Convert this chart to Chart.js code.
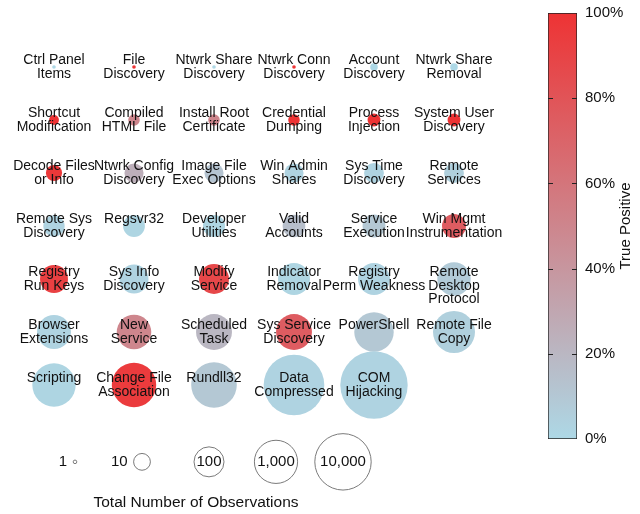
<!DOCTYPE html>
<html>
<head>
<meta charset="utf-8">
<script src="https://cdn.jsdelivr.net/npm/chart.js@4.4.1/dist/chart.umd.min.js"></script>
<style>
  html, body { margin: 0; padding: 0; background: #fff; }
  #wrap { position: relative; width: 640px; height: 514px; }
  #bubbles { position: absolute; left: 0; top: 0; }
  #scale { position: absolute; left: 540px; top: 0; }
</style>
</head>
<body>
<div id="wrap">
  <canvas id="bubbles" width="640" height="514"></canvas>
  <canvas id="scale" width="100" height="514"></canvas>
</div>
<script>
// techniques, laid out row by row, 6 per row
const techniques = [
  "Ctrl Panel\nItems", "File\nDiscovery", "Ntwrk Share\nDiscovery", "Ntwrk Conn\nDiscovery", "Account\nDiscovery", "Ntwrk Share\nRemoval",
  "Shortcut\nModification", "Compiled\nHTML File", "Install Root\nCertificate", "Credential\nDumping", "Process\nInjection", "System User\nDiscovery",
  "Decode Files\nor Info", "Ntwrk Config\nDiscovery", "Image File\nExec Options", "Win Admin\nShares", "Sys Time\nDiscovery", "Remote\nServices",
  "Remote Sys\nDiscovery", "Regsvr32", "Developer\nUtilities", "Valid\nAccounts", "Service\nExecution", "Win Mgmt\nInstrumentation",
  "Registry\nRun Keys", "Sys Info\nDiscovery", "Modify\nService", "Indicator\nRemoval", "Registry\nPerm Weakness", "Remote\nDesktop\nProtocol",
  "Browser\nExtensions", "New\nService", "Scheduled\nTask", "Sys Service\nDiscovery", "PowerShell", "Remote File\nCopy",
  "Scripting", "Change File\nAssociation", "Rundll32", "Data\nCompressed", "COM\nHijacking"
];
// total number of observations
const observations = [
  1, 1, 1, 1, 2, 2,
  3, 4, 4, 4, 5, 5,
  9, 15, 15, 15, 17, 17,
  22, 24, 25, 28, 29, 35,
  70, 84, 100, 140, 140, 180,
  200, 220, 280, 280, 520, 810,
  1030, 1230, 1520, 21000, 68000
];
// true positive rate (%)
const truePositive = [
  0, 100, 0, 100, 0, 0,
  100, 50, 50, 100, 100, 100,
  97, 25, 12, 3, 3, 5,
  3, 2, 2, 15, 10, 75,
  92, 3, 88, 2, 3, 8,
  3, 50, 20, 75, 10, 5,
  2, 95, 10, 3, 3
];
const sizeSteps = [1, 10, 100, 1000, 10000];
const colorTicks = [20, 40, 60, 80];

const columns = 6;
const FONT = '"Liberation Sans", Arial, Helvetica, sans-serif';
const LOW = [173, 216, 230];
const HIGH = [238, 51, 52];

function tpColor(p) {
  const t = p / 100;
  const c = LOW.map((v, i) => Math.round(v + (HIGH[i] - v) * t));
  return `rgb(${c.join(",")})`;
}
// bubble radius grows with log of the count
function radius(n) {
  return 1.8 + 6.6 * Math.log10(n);
}

const cellPoints = techniques.map((name, i) => ({
  x: i % columns,
  y: Math.floor(i / columns),
  r: radius(observations[i]),
}));
const legendPoints = sizeSteps.map((n, i) => ({
  x: 0.2625 + i * 0.8375,
  y: 7.45,
  r: radius(n),
}));

const labelPlugin = {
  id: "cellLabels",
  afterDatasetsDraw(chart) {
    const { ctx } = chart;
    ctx.save();
    ctx.fillStyle = "#111";
    ctx.textBaseline = "middle";
    ctx.textAlign = "center";
    ctx.font = `14px ${FONT}`;
    chart.getDatasetMeta(0).data.forEach((el, i) => {
      techniques[i].split("\n").forEach((line, k) => {
        ctx.fillText(line, el.x, el.y - 6.5 + k * 13.5);
      });
    });

    ctx.font = `15px ${FONT}`;
    chart.getDatasetMeta(1).data.forEach((el, i) => {
      const txt = sizeSteps[i].toLocaleString("en-US");
      const w = ctx.measureText(txt).width;
      const r = radius(sizeSteps[i]);
      if (w + 4 < 2 * r) {
        ctx.textAlign = "center";
        ctx.fillText(txt, el.x, el.y);
      } else {
        ctx.textAlign = "right";
        ctx.fillText(txt, el.x - r - 6, el.y);
      }
    });

    ctx.textAlign = "center";
    ctx.font = `15.5px ${FONT}`;
    ctx.fillText("Total Number of Observations", 196, chart.chartArea.bottom + 12);
    ctx.restore();
  },
};

new Chart(document.getElementById("bubbles"), {
  type: "bubble",
  data: {
    datasets: [
      {
        data: cellPoints,
        backgroundColor: truePositive.map(tpColor),
        borderWidth: 0,
        clip: false,
      },
      {
        data: legendPoints,
        backgroundColor: "#fff",
        borderColor: "#7a7a7a",
        borderWidth: 1,
        clip: false,
      },
    ],
  },
  options: {
    responsive: false,
    animation: false,
    events: [],
    layout: { autoPadding: false, padding: { left: 14, right: 146, top: 14, bottom: 23 } },
    plugins: { legend: { display: false }, tooltip: { enabled: false } },
    scales: {
      x: { type: "linear", min: -0.5, max: 5.5, display: false },
      y: { type: "linear", min: -1, max: 8, reverse: true, display: false },
    },
  },
  plugins: [labelPlugin],
});

// colour scale bar
const scalePlugin = {
  id: "scaleMarks",
  afterDatasetsDraw(chart) {
    const { ctx, chartArea: a } = chart;
    const y = chart.scales.y;
    ctx.save();
    ctx.strokeStyle = "#222";
    ctx.lineWidth = 1;
    colorTicks.forEach((v) => {
      const py = Math.round(y.getPixelForValue(v)) + 0.5;
      ctx.beginPath();
      ctx.moveTo(a.left, py);
      ctx.lineTo(a.left + 5, py);
      ctx.moveTo(a.right - 5, py);
      ctx.lineTo(a.right, py);
      ctx.stroke();
    });
    ctx.fillStyle = "#111";
    ctx.font = `15px ${FONT}`;
    ctx.textAlign = "center";
    ctx.textBaseline = "middle";
    ctx.translate(86, (a.top + a.bottom) / 2);
    ctx.rotate(-Math.PI / 2);
    ctx.fillText("True Positive", 0, 0);
    ctx.restore();
  },
};

new Chart(document.getElementById("scale"), {
  type: "bar",
  data: {
    labels: ["tp"],
    datasets: [
      {
        data: [100],
        backgroundColor: (c) => {
          const a = c.chart.chartArea;
          if (!a) return tpColor(50);
          const g = c.chart.ctx.createLinearGradient(0, a.bottom, 0, a.top);
          g.addColorStop(0, tpColor(0));
          g.addColorStop(1, tpColor(100));
          return g;
        },
        borderColor: "#222",
        borderWidth: 1,
        borderSkipped: false,
        barPercentage: 1,
        categoryPercentage: 1,
      },
    ],
  },
  options: {
    responsive: false,
    animation: false,
    events: [],
    layout: { autoPadding: false, padding: { left: 8, right: 0, top: 13, bottom: 75 } },
    plugins: { legend: { display: false }, tooltip: { enabled: false } },
    scales: {
      x: { display: false },
      y: {
        position: "right",
        min: 0,
        max: 100,
        afterFit(s) { s.width = 63; s.paddingTop = 0; s.paddingBottom = 0; },
        grid: { display: false, drawTicks: false },
        border: { display: false },
        ticks: {
          stepSize: 20,
          padding: 8,
          color: "#111",
          font: { family: FONT, size: 15 },
          callback: (v) => v + "%",
        },
      },
    },
  },
  plugins: [scalePlugin],
});
</script>
</body>
</html>
